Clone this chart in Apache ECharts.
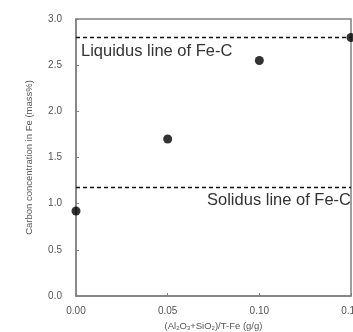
<!DOCTYPE html>
<html>
<head>
<meta charset="utf-8">
<script src="https://cdn.jsdelivr.net/npm/echarts@6/dist/echarts.min.js"></script>
<style>
  html, body { margin: 0; padding: 0; background: #fff; }
  #box1 { width: 353px; height: 332px; }
</style>
</head>
<body>
<div id="box1"></div>
<script>
var ratio = [0.00, 0.05, 0.10, 0.15];
var carbon = [0.92, 1.70, 2.55, 2.80];
var liquidus = 2.80;
var solidus = 1.18;
var xTicks = ['0.00', '0.05', '0.10', '0.15'];

var dom = document.getElementById("box1");
var myChart = echarts.init(dom);

var points = ratio.map(function (x, i) { return [x, carbon[i]]; });

var axisGray = '#808080';
var labelGray = '#555';

option = {
  animation: false,
  textStyle: { fontFamily: 'Liberation Sans, Arial, sans-serif' },
  grid: {
    left: 76, top: 19, right: 2, bottom: 36,
    outerBoundsMode: 'none',
    containLabel: false,
    show: true, borderColor: axisGray, borderWidth: 1.5
  },
  xAxis: {
    type: 'value',
    min: 0, max: 0.15, interval: 0.05,
    name: '{n|(Al}{s|2}{n|O}{s|3}{n|+SiO}{s|2}{n|)/T-Fe (g/g)}',
    nameLocation: 'middle',
    nameGap: 23,
    nameTextStyle: {
      rich: {
        n: { fontSize: 9.5, color: labelGray },
        s: { fontSize: 6, color: labelGray, verticalAlign: 'bottom', padding: [5, 0, 0, 0] }
      }
    },
    axisLine: { lineStyle: { color: axisGray, width: 1.5 } },
    axisTick: { inside: true, length: 3, lineStyle: { color: axisGray } },
    splitLine: { show: false },
    axisLabel: {
      fontSize: 10, color: labelGray, margin: 10, hideOverlap: false,
      showMaxLabel: true,
      formatter: function (v) { return xTicks[Math.round(v / 0.05)]; }
    }
  },
  yAxis: {
    type: 'value',
    min: 0, max: 3, interval: 0.5,
    name: 'Carbon concentration in Fe (mass%)',
    nameLocation: 'middle',
    nameGap: 42,
    nameTextStyle: { fontSize: 9.5, color: labelGray },
    axisLine: { lineStyle: { color: axisGray, width: 1.5 } },
    axisTick: { inside: true, length: 3, lineStyle: { color: axisGray } },
    splitLine: { show: false },
    axisLabel: {
      fontSize: 10, color: labelGray, margin: 14,
      formatter: function (v) { return v.toFixed(1); }
    }
  },
  series: [
    {
      type: 'scatter',
      data: points,
      symbolSize: 9,
      itemStyle: { color: '#000' },
      markLine: {
        silent: true,
        symbol: 'none',
        lineStyle: { color: '#111', type: [4, 3], width: 1.3 },
        data: [
          {
            yAxis: liquidus,
            label: {
              show: true, position: 'insideStartBottom', formatter: 'Liquidus line of Fe-C',
              fontSize: 16.5, color: '#333', distance: [5, 5]
            }
          },
          {
            yAxis: solidus,
            label: {
              show: true, position: 'insideEndBottom', formatter: 'Solidus line of Fe-C',
              fontSize: 16.5, color: '#333', distance: [0, 5]
            }
          }
        ]
      }
    }
  ]
};

if (option && typeof option === 'object') {
  myChart.setOption(option);
}
</script>
</body>
</html>
